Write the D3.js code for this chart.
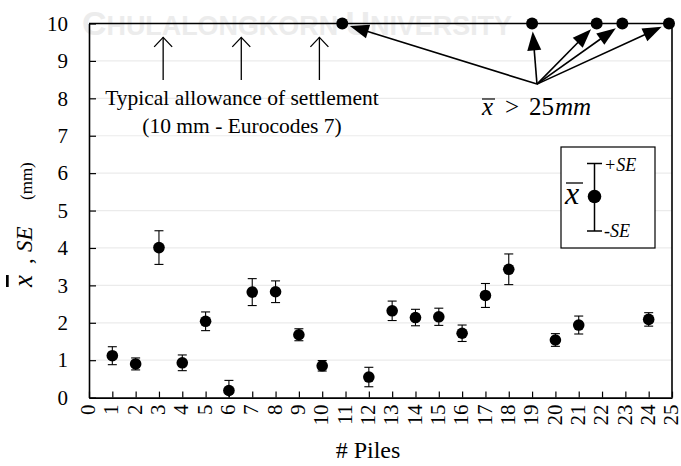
<!DOCTYPE html>
<html><head><meta charset="utf-8">
<script src="https://cdn.jsdelivr.net/npm/d3@7"></script>
<style>
body{margin:0;background:#fff}
svg{display:block}
text{font-family:"Liberation Serif","Times New Roman",serif;fill:#000}
</style>
</head><body>
<svg id="c" width="681" height="466"></svg>
<script>
// ---- data ----
const piles = [1,2,3,4,5,6,7,8,9,10,12,13,14,15,16,17,18,20,21,24];
const means = [1.12,0.90,4.01,0.93,2.04,0.19,2.82,2.83,1.68,0.85,0.55,2.32,2.14,2.16,1.72,2.73,3.43,1.54,1.94,2.09];
const ses   = [0.24,0.16,0.45,0.21,0.25,0.27,0.36,0.29,0.16,0.14,0.26,0.26,0.22,0.23,0.22,0.32,0.41,0.17,0.24,0.18];
// piles whose mean exceeds 25 mm, plotted at the top of the axis
const overX = [10.86,19,21.77,22.87,24.87];
const overY = [10,10,10,10,10];
const xTicks = d3.range(0,26);
const yTicks = d3.range(0,11);
const allowanceArrowX = [3.18,6.53,9.88];
const allowanceArrowY = [8.49,9.63];
const overArrowFrom = [19.21,8.38];

const svg = d3.select("#c");
const x = d3.scaleLinear().domain([0,25]).range([89,672]);
const y = d3.scaleLinear().domain([0,10]).range([397.6,23.5]);

// watermark
const wm = svg.append("text").attr("x",82).attr("y",35)
  .attr("textLength",430).attr("lengthAdjust","spacingAndGlyphs")
  .style("font-family","'Liberation Sans',Arial,sans-serif").style("font-weight","bold")
  .style("fill","#ececec");
wm.append("tspan").style("font-size","34px").text("C");
wm.append("tspan").style("font-size","27px").text("HULALONGKORN ");
wm.append("tspan").style("font-size","34px").text("U");
wm.append("tspan").style("font-size","27px").text("NIVERSITY");

// gridlines
svg.append("g").selectAll("line").data(yTicks.filter(d=>d>0&&d<10)).join("line")
  .attr("x1",x(0)).attr("x2",x(25)).attr("y1",d=>y(d)).attr("y2",d=>y(d))
  .attr("stroke","#ebebeb").attr("stroke-width",1.2);

// axes
const xAxis = d3.axisBottom(x).tickValues(xTicks).tickSizeInner(-6).tickSizeOuter(0).tickPadding(0);
const gx = svg.append("g").attr("transform",`translate(0,${y(0)})`).call(xAxis)
  .attr("font-family",null).attr("font-size",null);
gx.select(".domain").attr("stroke","#000").attr("stroke-width",1.6);
gx.selectAll(".tick line").attr("stroke","#000").attr("stroke-width",1.2);
gx.selectAll(".tick text")
  .attr("transform","rotate(-90)")
  .attr("x",-7).attr("y",-1.5).attr("dy","0.34em")
  .attr("text-anchor","end")
  .style("font-size","21px");

const yAxis = d3.axisLeft(y).tickValues(yTicks).tickSizeInner(-7).tickSizeOuter(0).tickPadding(21);
const gy = svg.append("g").attr("transform",`translate(${x(0)},0)`).call(yAxis)
  .attr("font-family",null).attr("font-size",null);
gy.select(".domain").attr("stroke","#000").attr("stroke-width",1.6);
gy.selectAll(".tick line").attr("stroke","#000").attr("stroke-width",1.2);
gy.selectAll(".tick text").style("font-size","21px");

// top & right frame
svg.append("line").attr("x1",x(0)).attr("x2",x(25)).attr("y1",y(10)).attr("y2",y(10))
  .attr("stroke","#000").attr("stroke-width",1.6);
svg.append("line").attr("x1",x(25)).attr("x2",x(25)).attr("y1",y(10)).attr("y2",y(0))
  .attr("stroke","#000").attr("stroke-width",1.6);

// error bars
const pts = piles.map((p,i)=>({p, m:means[i], s:ses[i]}));
const eb = svg.append("g").attr("stroke","#000").attr("stroke-width",1.1);
eb.selectAll("line.v").data(pts).join("line").attr("class","v")
  .attr("x1",d=>x(d.p)).attr("x2",d=>x(d.p))
  .attr("y1",d=>y(d.m+d.s)).attr("y2",d=>y(Math.max(0,d.m-d.s)));
eb.selectAll("line.t").data(pts).join("line").attr("class","t")
  .attr("x1",d=>x(d.p)-4.5).attr("x2",d=>x(d.p)+4.5)
  .attr("y1",d=>y(d.m+d.s)).attr("y2",d=>y(d.m+d.s));
eb.selectAll("line.b").data(pts.filter(d=>d.m-d.s>0)).join("line").attr("class","b")
  .attr("x1",d=>x(d.p)-4.5).attr("x2",d=>x(d.p)+4.5)
  .attr("y1",d=>y(d.m-d.s)).attr("y2",d=>y(d.m-d.s));
svg.append("g").selectAll("circle").data(pts).join("circle")
  .attr("cx",d=>x(d.p)).attr("cy",d=>y(d.m)).attr("r",5.8).attr("fill","#000");

// points above 25 mm
const over = overX.map((v,i)=>({x:v,y:overY[i]}));
svg.append("g").selectAll("circle").data(over).join("circle")
  .attr("cx",d=>x(d.x)).attr("cy",d=>y(d.y)).attr("r",6).attr("fill","#000");

// arrows to points above 25 mm
const ox = x(overArrowFrom[0]), oy = y(overArrowFrom[1]);
const ag = svg.append("g");
over.forEach(d=>{
  const cx = x(d.x), cy = y(d.y);
  const dx = cx-ox, dy = cy-oy, L = Math.hypot(dx,dy);
  const ux = dx/L, uy = dy/L;
  const tipx = cx - ux*8, tipy = cy - uy*8;
  const hl = 19, hw = 7;
  const bx = tipx - ux*hl, by = tipy - uy*hl;
  ag.append("line").attr("x1",ox).attr("y1",oy).attr("x2",bx+ux*2).attr("y2",by+uy*2)
    .attr("stroke","#000").attr("stroke-width",1.6);
  ag.append("path").attr("d",`M${tipx},${tipy}L${bx-uy*hw},${by+ux*hw}L${bx+uy*hw},${by-ux*hw}Z`)
    .attr("fill","#000");
});

// allowance arrows
const ua = svg.append("g").attr("stroke","#000").attr("stroke-width",1.3).attr("fill","none");
allowanceArrowX.forEach(v=>{
  const px = x(v), y1 = y(allowanceArrowY[0]), y2 = y(allowanceArrowY[1]);
  ua.append("line").attr("x1",px).attr("x2",px).attr("y1",y1).attr("y2",y2);
  ua.append("path").attr("d",`M${px-9},${y2+9.5}L${px},${y2}L${px+9},${y2+9.5}`);
});

// annotation text
svg.append("text").attr("x",242).attr("y",105).attr("text-anchor","middle")
  .style("font-size","21.5px").text("Typical allowance of settlement");
svg.append("text").attr("x",242).attr("y",133).attr("text-anchor","middle")
  .style("font-size","21.5px").text("(10 mm - Eurocodes 7)");

const t25 = svg.append("text").attr("y",115).style("font-size","25px");
t25.append("tspan").attr("x",482).style("font-style","italic").text("x");
t25.append("tspan").attr("x",505).text(">");
t25.append("tspan").attr("x",529).text("25");
t25.append("tspan").attr("x",555).style("font-style","italic").text("mm");
svg.append("line").attr("x1",482).attr("x2",495).attr("y1",99).attr("y2",99)
  .attr("stroke","#000").attr("stroke-width",1.2);

// legend
const lg = svg.append("g");
lg.append("rect").attr("x",561).attr("y",147).attr("width",94).attr("height",101)
  .attr("fill","#fff").attr("stroke","#000").attr("stroke-width",1.2);
lg.append("line").attr("x1",594.5).attr("x2",594.5).attr("y1",163.5).attr("y2",231).attr("stroke","#000").attr("stroke-width",1.5);
lg.append("line").attr("x1",587).attr("x2",602).attr("y1",163.5).attr("y2",163.5).attr("stroke","#000").attr("stroke-width",1.5);
lg.append("line").attr("x1",587).attr("x2",602).attr("y1",231).attr("y2",231).attr("stroke","#000").attr("stroke-width",1.5);
lg.append("circle").attr("cx",594.5).attr("cy",196.5).attr("r",6.8).attr("fill","#000");
lg.append("text").attr("x",604).attr("y",171).style("font-size","18px").style("font-style","italic").text("+SE");
lg.append("text").attr("x",604).attr("y",237).style("font-size","18px").style("font-style","italic").text("-SE");
lg.append("text").attr("x",565).attr("y",204).style("font-size","32px").style("font-style","italic").text("x");
lg.append("line").attr("x1",566).attr("x2",583).attr("y1",183).attr("y2",183).attr("stroke","#000").attr("stroke-width",1.3);

// axis titles
svg.append("text").attr("x",368).attr("y",458).attr("text-anchor","middle")
  .style("font-size","24px").text("# Piles");
const yt = svg.append("text").attr("transform","translate(32,0) rotate(-90)");
yt.append("tspan").attr("x",-287).style("font-size","27px").style("font-style","italic")
  .style("text-decoration","overline").text("x");
yt.append("tspan").attr("x",-264).style("font-size","23px").text(",");
yt.append("tspan").attr("x",-252).style("font-size","23px").style("font-style","italic").text("SE");
yt.append("tspan").attr("x",-200).style("font-size","17px").text("(mm)");
</script>
</body></html>
